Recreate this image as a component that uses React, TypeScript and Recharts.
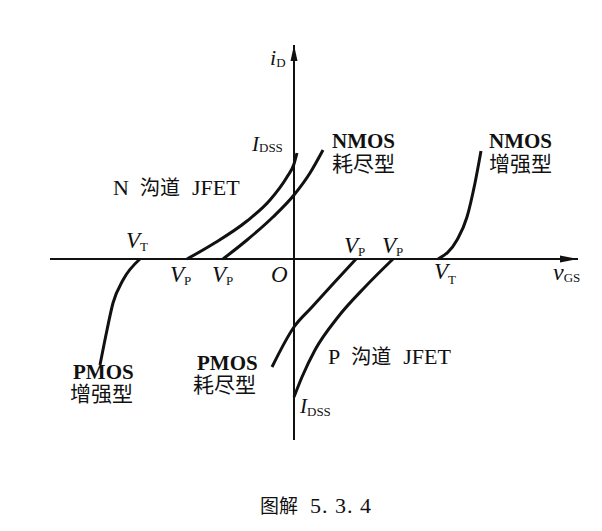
import { ComposedChart, Line, XAxis, YAxis, ReferenceLine, ReferenceDot } from 'recharts'

// transfer characteristics i_D(v_GS) (arbitrary units)
const nJfet = [
  { v: -10.7, i: 0 },
  { v: -8.1, i: 1.5 },
  { v: -4.7, i: 3.8 },
  { v: -2.4, i: 5.9 },
  { v: -0.7, i: 8.2 },
  { v: 0, i: 9.5 },
  { v: 0.3, i: 10.6 },
]
const nmosDep = [
  { v: -7.1, i: 0 },
  { v: -4.7, i: 1.9 },
  { v: -2.1, i: 4.2 },
  { v: 0, i: 6.4 },
  { v: 1.6, i: 8.6 },
  { v: 2.9, i: 10.9 },
]
const nmosEnh = [
  { v: 14.4, i: 0 },
  { v: 16.3, i: 1.9 },
  { v: 17.3, i: 4.2 },
  { v: 18.1, i: 7.6 },
  { v: 18.7, i: 10.8 },
]
const pmosEnh = [
  { v: -19.4, i: -10.6 },
  { v: -18.7, i: -7.1 },
  { v: -18.1, i: -4.4 },
  { v: -17.1, i: -2.1 },
  { v: -15.4, i: 0 },
]
const pmosDep = [
  { v: -2.2, i: -10.8 },
  { v: 0, i: -6.8 },
  { v: 1.8, i: -4.8 },
  { v: 3.8, i: -2.6 },
  { v: 6.2, i: 0 },
]
const pJfet = [
  { v: 0, i: -13.8 },
  { v: 0.8, i: -11.8 },
  { v: 2.1, i: -9.1 },
  { v: 4.4, i: -5.8 },
  { v: 7.1, i: -2.8 },
  { v: 9.9, i: 0 },
]

const curves = [nJfet, nmosDep, nmosEnh, pmosEnh, pmosDep, pJfet]

const X_DOMAIN = [-24.4, 28.4]
const Y_DOMAIN = [-18.1, 21.4]

const SERIF = '"Liberation Serif", "Times New Roman", serif'
const MIXED = '"Liberation Serif", "Noto Sans CJK SC", serif'
const CJK = '"Noto Sans CJK SC", sans-serif'

type Part = {
  t: string
  size: number
  italic?: boolean
  bold?: boolean
  cjk?: boolean
  dx?: number
  dy?: number
  spacing?: number
}

const sym = (main: string, sub: string, size = 23, subDy = 3): Part[] => [
  { t: main, size, italic: true },
  { t: sub, size: 13, dy: subDy },
]

// annotations: anchor (left, baseline) in axis units
const labels: { x: number; y: number; parts: Part[] }[] = [
  { x: -2.4, y: 19.4, parts: sym('i', 'D', 22, 2) },
  { x: -4.2, y: 10.8, parts: sym('I', 'DSS', 21, 1) },
  { x: 0.6, y: -15.4, parts: sym('I', 'DSS', 21, 3) },
  { x: -16.8, y: 1.1, parts: sym('V', 'T') },
  { x: -12.4, y: -2.3, parts: sym('V', 'P') },
  { x: -8.2, y: -2.3, parts: sym('V', 'P') },
  { x: -2.3, y: -2.3, parts: [{ t: 'O', size: 23, italic: true }] },
  { x: 5.0, y: 0.6, parts: sym('V', 'P') },
  { x: 8.8, y: 0.6, parts: sym('V', 'P') },
  { x: 14.0, y: -2.0, parts: sym('V', 'T', 23, 5) },
  { x: 25.9, y: -2.1, parts: sym('v', 'GS', 24, 2) },
  {
    x: -18.1,
    y: 6.4,
    parts: [
      { t: 'N', size: 22 },
      { t: '沟道', size: 20, cjk: true, dx: 11 },
      { t: 'JFET', size: 22, dx: 12 },
    ],
  },
  {
    x: 3.4,
    y: -10.5,
    parts: [
      { t: 'P', size: 22 },
      { t: '沟道', size: 20, cjk: true, dx: 11 },
      { t: 'JFET', size: 22, dx: 12 },
    ],
  },
  { x: 3.8, y: 11.1, parts: [{ t: 'NMOS', size: 21, bold: true }] },
  { x: 3.8, y: 8.85, parts: [{ t: '耗尽型', size: 21, cjk: true }] },
  { x: 19.5, y: 11.1, parts: [{ t: 'NMOS', size: 21, bold: true }] },
  { x: 19.5, y: 8.85, parts: [{ t: '增强型', size: 21, cjk: true }] },
  { x: -22.1, y: -12.0, parts: [{ t: 'PMOS', size: 21, bold: true }] },
  { x: -22.4, y: -14.2, parts: [{ t: '增强型', size: 21, cjk: true }] },
  { x: -9.7, y: -11.1, parts: [{ t: 'PMOS', size: 21, bold: true }] },
  { x: -10.1, y: -13.3, parts: [{ t: '耗尽型', size: 21, cjk: true }] },
  {
    x: -3.4,
    y: -25.4,
    parts: [
      { t: '图解', size: 19, cjk: true },
      { t: '5. 3. 4', size: 22, dx: 12, spacing: 1 },
    ],
  },
]

const LabelShape = ({ cx, cy, parts }: any) => (
  <text x={cx} y={cy} fill="#111" style={{ whiteSpace: 'pre' }}>
    {parts.map((p: Part, k: number) => (
      <tspan
        key={k}
        dx={p.dx ?? 0}
        dy={p.dy ?? 0}
        fontSize={p.size}
        fontFamily={p.cjk ? CJK : p.italic ? SERIF : MIXED}
        fontStyle={p.italic ? 'italic' : 'normal'}
        fontWeight={p.bold ? 700 : 400}
        letterSpacing={p.spacing ?? 0}
      >
        {p.t}
      </tspan>
    ))}
  </text>
)

const ArrowRight = ({ cx, cy }: any) => (
  <polygon points={`${cx},${cy} ${cx - 18},${cy - 3.5} ${cx - 18},${cy + 3.5}`} fill="#111" />
)
const ArrowUp = ({ cx, cy }: any) => (
  <polygon points={`${cx},${cy} ${cx - 3.5},${cy + 16} ${cx + 3.5},${cy + 16}`} fill="#111" />
)

export default function App() {
  return (
    <div style={{ width: 586, height: 515, background: '#fff' }}>
      <ComposedChart
        width={586}
        height={515}
        margin={{ top: 37, right: 16, bottom: 83, left: 42 }}
      >
        <XAxis dataKey="v" type="number" domain={X_DOMAIN} hide allowDataOverflow />
        <YAxis dataKey="i" type="number" domain={Y_DOMAIN} hide allowDataOverflow />
        <ReferenceLine y={0} stroke="#111" strokeWidth={2} />
        <ReferenceLine x={0} stroke="#111" strokeWidth={2} />
        <ReferenceDot x={X_DOMAIN[1]} y={0} r={0} shape={<ArrowRight />} ifOverflow="visible" />
        <ReferenceDot x={0} y={Y_DOMAIN[1]} r={0} shape={<ArrowUp />} ifOverflow="visible" />
        {curves.map((c, k) => (
          <Line
            key={k}
            data={c}
            dataKey="i"
            type="monotone"
            stroke="#111"
            strokeWidth={3}
            dot={false}
            isAnimationActive={false}
          />
        ))}
        {labels.map((l, k) => (
          <ReferenceDot
            key={'l' + k}
            x={l.x}
            y={l.y}
            r={0}
            ifOverflow="visible"
            shape={(p: any) => <LabelShape cx={p.cx} cy={p.cy} parts={l.parts} />}
          />
        ))}
      </ComposedChart>
    </div>
  )
}
